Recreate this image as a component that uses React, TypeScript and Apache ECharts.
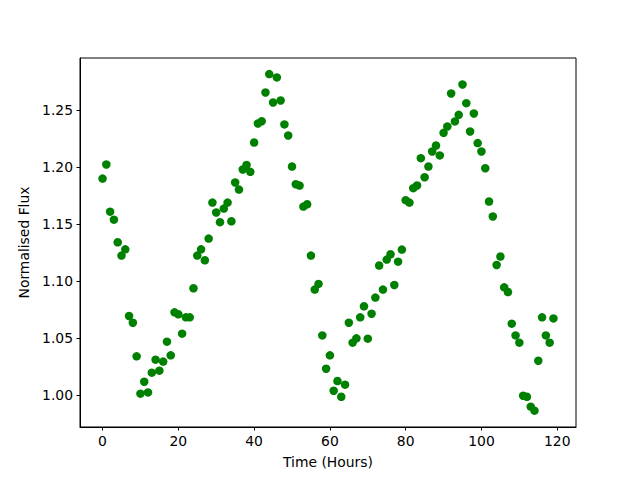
import React, { useEffect, useRef } from "react";
import * as echarts from "echarts";

const hours: number[] = Array.from({ length: 120 }, (_, i) => i);
const flux: number[] = [
  1.190, 1.2024, 1.161, 1.154, 1.1342, 1.1225, 1.128, 1.0696, 1.0637, 1.0342,
  1.0015, 1.012, 1.0026, 1.0199, 1.0313, 1.0217, 1.0296, 1.0471, 1.0351, 1.0728,
  1.0711, 1.0541, 1.0684, 1.0684, 1.0939, 1.1225, 1.128, 1.1184, 1.1374, 1.169,
  1.1603, 1.1518, 1.1637, 1.169, 1.1526, 1.1866, 1.1804, 1.198, 1.202, 1.1959,
  1.2216, 1.2383, 1.2403, 1.2655, 1.2816, 1.2567, 1.2787, 1.2585, 1.2375, 1.2278,
  1.2006, 1.1851, 1.1839, 1.1655, 1.1675, 1.1225, 1.0927, 1.0977, 1.0526, 1.0234,
  1.0351, 1.0041, 1.0126, 0.9988, 1.0094, 1.0637, 1.0462, 1.05, 1.0684, 1.0781,
  1.0497, 1.0716, 1.0857, 1.1138, 1.0927, 1.119, 1.1237, 1.0968, 1.1172, 1.1278,
  1.1711, 1.169, 1.1816, 1.184, 1.2079, 1.1912, 1.2006, 1.2138, 1.219, 1.2103,
  1.2301, 1.2357, 1.2646, 1.2401, 1.2459, 1.2725, 1.2561, 1.2313, 1.2471, 1.2211,
  1.2138, 1.1991, 1.1699, 1.1568, 1.1143, 1.1217, 1.0947, 1.0906, 1.0629, 1.0526,
  1.0462, 0.9997, 0.9988, 0.9901, 0.9866, 1.0304, 1.0684, 1.0526, 1.0462, 1.0675,
];
const xTicks: number[] = [0, 20, 40, 60, 80, 100, 120];
const yTicks: number[] = [1.0, 1.05, 1.1, 1.15, 1.2, 1.25];

export default function App() {
  const ref = useRef<HTMLDivElement>(null);
  useEffect(() => {
    if (!ref.current) return;
    const chart = echarts.init(ref.current, undefined, { renderer: "svg" });
    const font = "DejaVu Sans";
    chart.setOption({
      animation: false,
      backgroundColor: "#ffffff",
      textStyle: { fontFamily: font },
      grid: {
        left: 80,
        top: 58,
        width: 496,
        height: 369,
        show: true,
        borderColor: "#000",
        borderWidth: 1,
        backgroundColor: "transparent",
      },
      xAxis: {
        type: "value",
        min: -5.95,
        max: 124.95,
        name: "Time (Hours)",
        nameLocation: "middle",
        nameGap: 28,
        nameTextStyle: { fontFamily: font, fontSize: 13.9, color: "#000" },
        axisLine: { show: true, onZero: false, lineStyle: { color: "#000", width: 1 } },
        axisTick: { show: true, length: 3.5, inside: false, customValues: xTicks, lineStyle: { color: "#000" } },
        axisLabel: { show: true, margin: 7, customValues: xTicks, fontFamily: font, fontSize: 13.9, color: "#000" },
        splitLine: { show: false },
      },
      yAxis: {
        type: "value",
        min: 0.9723,
        max: 1.2957,
        name: "Normalised Flux",
        nameLocation: "middle",
        nameGap: 46,
        nameRotate: 90,
        nameTextStyle: { fontFamily: font, fontSize: 13.9, color: "#000" },
        axisLine: { show: true, onZero: false, lineStyle: { color: "#000", width: 1 } },
        axisTick: { show: true, length: 3.5, inside: false, customValues: yTicks, lineStyle: { color: "#000" } },
        axisLabel: {
          show: true,
          margin: 7,
          customValues: yTicks,
          fontFamily: font,
          fontSize: 13.9,
          color: "#000",
          formatter: (v: number) => v.toFixed(2),
        },
        splitLine: { show: false },
      },
      series: [
        {
          type: "scatter",
          data: hours.map((h, i) => [h, flux[i]]),
          symbol: "circle",
          symbolSize: 8.5,
          itemStyle: { color: "#008000", opacity: 1 },
        },
      ],
    });
    return () => chart.dispose();
  }, []);
  return <div ref={ref} style={{ width: 640, height: 480, position: "absolute", left: 0, top: 0 }} />;
}
